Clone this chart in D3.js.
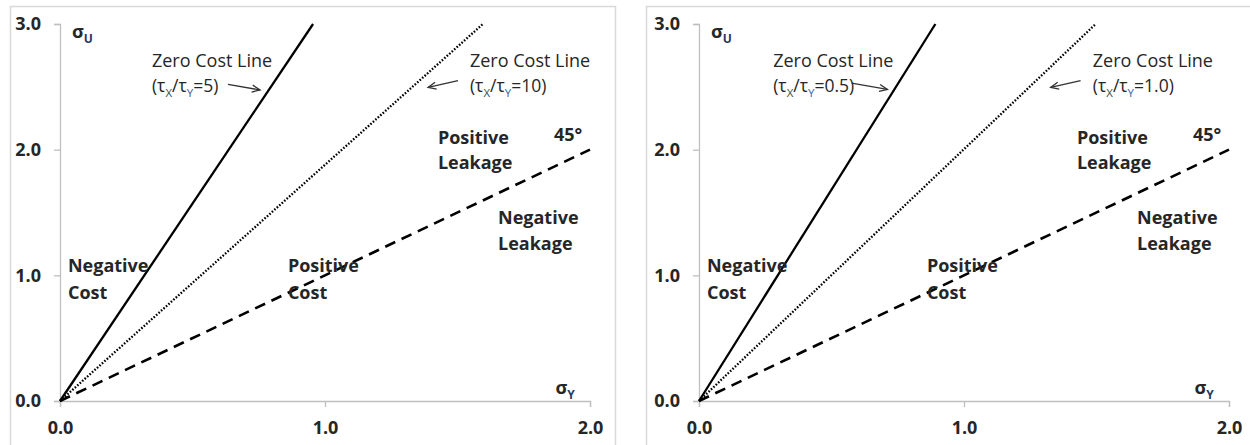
<!DOCTYPE html>
<html>
<head>
<meta charset="utf-8">
<script src="https://cdn.jsdelivr.net/npm/d3@7"></script>
<style>
  body { margin: 0; background: #fff; }
  svg { display: block; font-family: "Open Sans", "Noto Sans", sans-serif; }
</style>
</head>
<body>
<div id="chart"></div>
<script>
const width = 1250;
const height = 445;

// axis ticks
const xTicks = [0, 1, 2];
const yTicks = [0, 1, 2, 3];

// one entry per panel: left, right
const ratioSolid = ['5', '0.5'];
const ratioDotted = ['10', '1.0'];
const solidTopX = [0.955, 0.892];   // where the solid zero cost line reaches 3.0
const dottedTopX = [1.596, 1.497];  // where the dotted zero cost line reaches 3.0
const diagonal = [[0, 0], [2, 2]];  // 45 degree line

// layout
const panelLeft = [60, 699];
const panelFrame = [[10, 605], [646, 610]];
const plotW = 265;
const yTop = 24;
const yBottom = 401;
const textColor = '#262626';
const axisColor = '#bfbfbf';

// positions of the zero cost labels differ per panel (data units)
const zclSolidX = [0.347, 0.28];
const zclDottedX = [1.547, 1.486];
const arrowSolid = [[[0.634, 2.52], [0.755, 2.475]], [[0.576, 2.53], [0.711, 2.48]]];
const arrowDotted = [[[1.502, 2.55], [1.389, 2.495]], [[1.44, 2.55], [1.327, 2.495]]];

const svg = d3.select('#chart').append('svg')
  .attr('width', width)
  .attr('height', height);

svg.append('defs').append('marker')
  .attr('id', 'arr')
  .attr('markerUnits', 'userSpaceOnUse')
  .attr('markerWidth', 12)
  .attr('markerHeight', 10)
  .attr('refX', 9)
  .attr('refY', 5)
  .attr('orient', 'auto')
  .append('path')
  .attr('d', 'M1,1.5 L9,5 L1,8.5')
  .attr('fill', 'none')
  .attr('stroke', '#333')
  .attr('stroke-width', 1.3);

// text helper: segments with optional subscripts
function richText(g, x, y, segs, opts) {
  const t = g.append('text')
    .attr('x', x)
    .attr('y', y)
    .attr('fill', textColor)
    .attr('font-size', opts.size || 18)
    .attr('font-weight', opts.weight || 'normal');
  let shift = 0;
  segs.forEach(s => {
    const target = s.sub ? 5 : 0;
    t.append('tspan')
      .attr('dy', target - shift)
      .attr('font-size', s.sub ? (opts.subSize || 12) : null)
      .attr('fill', s.color || null)
      .text(s.t);
    shift = target;
  });
  return t;
}

const lineGen = (x, y) => d3.line().x(d => x(d[0])).y(d => y(d[1]));

[0, 1].forEach(i => {
  const g = svg.append('g');

  g.append('rect')
    .attr('x', panelFrame[i][0] + 0.5)
    .attr('y', 6.5)
    .attr('width', panelFrame[i][1])
    .attr('height', 460)
    .attr('fill', 'none')
    .attr('stroke', '#d9d9d9')
    .attr('stroke-width', 1.5);

  const x = d3.scaleLinear().domain([0, 2]).range([panelLeft[i], panelLeft[i] + plotW * 2]);
  const y = d3.scaleLinear().domain([0, 3]).range([yBottom, yTop]);

  const xAxis = g.append('g')
    .attr('transform', `translate(0,${yBottom})`)
    .call(d3.axisBottom(x).tickValues(xTicks).tickFormat(d3.format('.1f')).tickSize(6).tickPadding(14));
  const yAxis = g.append('g')
    .attr('transform', `translate(${panelLeft[i]},0)`)
    .call(d3.axisLeft(y).tickValues(yTicks).tickFormat(d3.format('.1f')).tickSize(6).tickPadding(13));

  [xAxis, yAxis].forEach(a => {
    a.select('.domain').attr('stroke', axisColor).attr('stroke-width', 1.3);
    a.selectAll('.tick line').attr('stroke', axisColor).attr('stroke-width', 1.3);
    a.selectAll('.tick text')
      .attr('fill', textColor)
      .attr('font-size', 18)
      .attr('font-weight', 'bold')
      .attr('font-family', '"Open Sans", sans-serif');
  });

  const line = lineGen(x, y);

  // zero cost lines and 45 degree line
  g.append('path')
    .attr('d', line([[0, 0], [solidTopX[i], 3]]))
    .attr('stroke', '#000')
    .attr('stroke-width', 2.3)
    .attr('fill', 'none');
  g.append('path')
    .attr('d', line([[0, 0], [dottedTopX[i], 3]]))
    .attr('stroke', '#000')
    .attr('stroke-width', 2.3)
    .attr('stroke-dasharray', '1.6,1.7')
    .attr('fill', 'none');
  g.append('path')
    .attr('d', line(diagonal))
    .attr('stroke', '#000')
    .attr('stroke-width', 2.6)
    .attr('stroke-dasharray', '11,7')
    .attr('fill', 'none');

  // arrows
  [arrowSolid[i], arrowDotted[i]].forEach(a => {
    g.append('path')
      .attr('d', line(a))
      .attr('stroke', '#333')
      .attr('stroke-width', 1.3)
      .attr('fill', 'none')
      .attr('marker-end', 'url(#arr)');
  });

  const by = v => y(v) + 6.5; // baseline from centre

  // axis names
  richText(g, x(0.045), by(2.94), [{t: 'σ'}, {t: 'U', sub: true, color: '#1f3864'}], {weight: 'bold'});
  richText(g, x(1.87), by(0.111), [{t: 'σ'}, {t: 'Y', sub: true, color: '#1f3864'}], {weight: 'bold'});

  // zero cost labels
  const tau = {size: 17.5, subSize: 11.5};
  richText(g, x(zclSolidX[i]), by(2.71), [{t: 'Zero Cost Line'}], {});
  richText(g, x(zclSolidX[i]), by(2.51), [
    {t: '(τ'}, {t: 'X', sub: true, color: '#3d4f3f'}, {t: '/τ'}, {t: 'Y', sub: true, color: '#3b5ea8'}, {t: '=' + ratioSolid[i] + ')'}
  ], tau);
  richText(g, x(zclDottedX[i]), by(2.71), [{t: 'Zero Cost Line'}], {});
  richText(g, x(zclDottedX[i]), by(2.51), [
    {t: '(τ'}, {t: 'X', sub: true, color: '#3d4f3f'}, {t: '/τ'}, {t: 'Y', sub: true, color: '#3b5ea8'}, {t: '=' + ratioDotted[i] + ')'}
  ], tau);

  // region labels
  const bold = {weight: 'bold'};
  richText(g, x(1.426), by(2.10), [{t: 'Positive'}], bold);
  richText(g, x(1.426), by(1.894), [{t: 'Leakage'}], bold);
  richText(g, x(1.864), by(2.117), [{t: '45°'}], bold);
  richText(g, x(1.653), by(1.464), [{t: 'Negative'}], bold);
  richText(g, x(1.653), by(1.257), [{t: 'Leakage'}], bold);
  richText(g, x(0.03), by(1.082), [{t: 'Negative'}], bold);
  richText(g, x(0.03), by(0.867), [{t: 'Cost'}], bold);
  richText(g, x(0.86), by(1.082), [{t: 'Positive'}], bold);
  richText(g, x(0.86), by(0.867), [{t: 'Cost'}], bold);
});
</script>
</body>
</html>
